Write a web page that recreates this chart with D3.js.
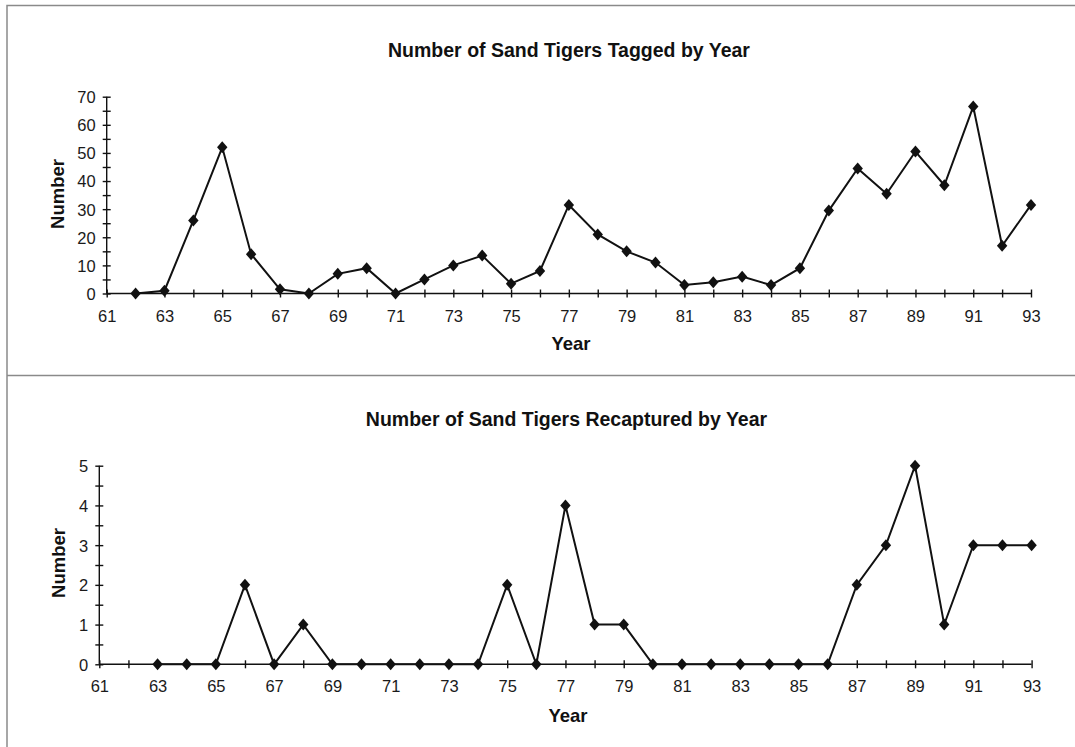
<html>
<head>
<title>Sand Tigers</title>
<style>
body { margin: 0; background: #fff; }
svg { font-family: Arial, "Liberation Sans", sans-serif; }
.frame { stroke: #8a8a8a; stroke-width: 1.5; fill: none; }
.series { fill: none; stroke: #111; stroke-width: 2; stroke-linejoin: miter; }
.mark { fill: #111; }
.axis path, .axis line { stroke: #111; stroke-width: 1.4; }
.axis text { font-size: 16.5px; fill: #1a1a1a; }
.title { font-size: 19.5px; font-weight: bold; fill: #111; }
.atitle { font-size: 18.5px; font-weight: bold; fill: #111; }
</style>
</head>
<body>
<div id="chart"></div>
<script src="https://d3js.org/d3.v7.min.js"></script>
<script>

// years on the x axis
const yearTicks = d3.range(61, 94);

// tagged per year (1962 - 1993)
const taggedYears = d3.range(62, 94);
const taggedValues = [0, 1, 26, 52, 14, 1.5, 0, 7, 9, 0, 5, 10, 13.5, 3.5, 8,
	31.5, 21, 15, 11, 3, 4, 6, 3, 9, 29.5, 44.5, 35.5, 50.5, 38.5, 66.5, 17, 31.5];

// recaptured per year (1963 - 1993)
const recapYears = d3.range(63, 94);
const recapValues = [0, 0, 0, 2, 0, 1, 0, 0, 0, 0, 0, 0, 2, 0, 4, 1, 1, 0,
	0, 0, 0, 0, 0, 0, 2, 3, 5, 1, 3, 3, 3];

const width = 1075, height = 747;

const svg = d3.select('#chart').append('svg')
	.attr('width', width)
	.attr('height', height);

// frame lines of the scanned page
svg.append('path').attr('class', 'frame')
	.attr('d', 'M7,747 L7,5.5 L1075,5.5 M7,375.5 L1075,375.5');

function panel(opt) {
	const g = svg.append('g');
	const x = d3.scaleLinear().domain([61, 93]).range([opt.left, opt.right]);
	const y = d3.scaleLinear().domain([0, opt.max]).range([opt.bottom, opt.top]);

	// x axis, a tick for every year, label every other year
	const xa = g.append('g').attr('class', 'axis')
		.attr('transform', `translate(0,${opt.bottom})`)
		.call(d3.axisBottom(x).tickValues(yearTicks)
			.tickFormat(d => d % 2 === 1 ? d : '').tickSizeOuter(0));
	xa.selectAll('.tick line').attr('y1', -4).attr('y2', 4);
	xa.selectAll('.tick text').attr('y', 28).attr('dy', null);

	// y axis with minor ticks between the labelled ones
	const ya = g.append('g').attr('class', 'axis')
		.attr('transform', `translate(${opt.left},0)`)
		.call(d3.axisLeft(y).tickValues(d3.range(0, opt.max + 0.001, opt.minor))
			.tickFormat(d => Math.abs(d / opt.major - Math.round(d / opt.major)) < 1e-6 ? d : '')
			.tickSizeOuter(0));
	ya.selectAll('.tick line').attr('x1', -4).attr('x2', 4);
	ya.selectAll('.tick text').attr('x', -11).attr('dy', '0.36em');
	g.selectAll('.axis .domain').attr('d', function() {
		return d3.select(this.parentNode).attr('transform').includes(',0)')
			? `M0,${opt.bottom}V${opt.top}` : `M${opt.left},0H${opt.right}`;
	});

	const pts = opt.years.map((yr, i) => [yr, opt.values[i]]);
	g.append('path').attr('class', 'series')
		.attr('d', d3.line().x(d => x(d[0])).y(d => y(d[1]))(pts));
	g.selectAll('.mark').data(pts).enter().append('path')
		.attr('class', 'mark')
		.attr('transform', d => `translate(${x(d[0])},${y(d[1])})`)
		.attr('d', 'M0,-6L5.2,0L0,6L-5.2,0Z');

	g.append('text').attr('class', 'title')
		.attr('x', opt.titleX).attr('y', opt.titleY)
		.attr('text-anchor', 'middle').text(opt.title);
	g.append('text').attr('class', 'atitle')
		.attr('x', opt.yearX).attr('y', opt.yearY)
		.attr('text-anchor', 'middle').text('Year');
	g.append('text').attr('class', 'atitle')
		.attr('transform', `translate(${opt.numX},${opt.numY}) rotate(-90)`)
		.attr('text-anchor', 'middle').text('Number');
}

panel({
	left: 106.7, right: 1031, top: 96.7, bottom: 293.5,
	max: 70, major: 10, minor: 5,
	years: taggedYears, values: taggedValues,
	title: 'Number of Sand Tigers Tagged by Year', titleX: 569, titleY: 57,
	yearX: 571, yearY: 350, numX: 63.5, numY: 194
});

panel({
	left: 99.3, right: 1031.6, top: 465.7, bottom: 664.3,
	max: 5, major: 1, minor: 0.5,
	years: recapYears, values: recapValues,
	title: 'Number of Sand Tigers Recaptured by Year', titleX: 566.5, titleY: 426,
	yearX: 568, yearY: 722, numX: 65, numY: 563
});

</script>
</body>
</html>
